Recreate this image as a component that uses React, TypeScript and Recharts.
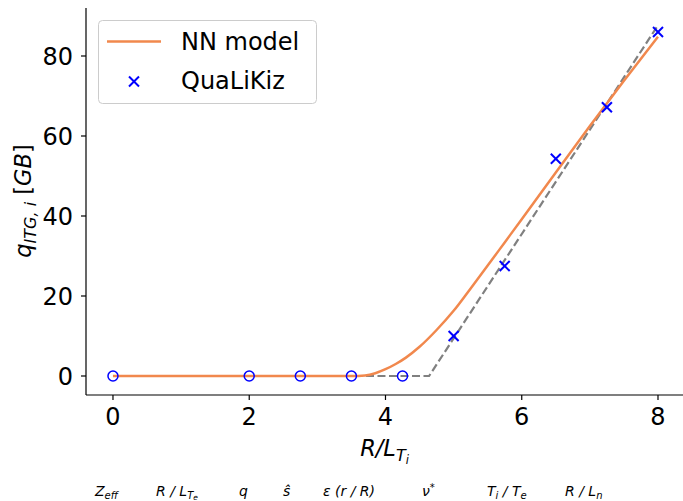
import { ComposedChart, Line, Scatter, XAxis, YAxis } from "recharts";

// NN model prediction
const nnX = [0, 3.5, 3.7, 3.85, 4, 4.15, 4.3, 4.5, 4.75, 5, 5.25, 5.5, 5.75, 6, 6.5, 7, 7.5, 8];
const nnY = [0, 0, 0.15, 0.7, 1.7, 3, 4.6, 7.3, 11.5, 16.3, 21.9, 27.6, 33.4, 39.2, 50.9, 62.5, 73.8, 84.8];

// dashed piecewise-linear reference
const refX = [0, 4.64, 8];
const refY = [0, 0, 87.7];

// QuaLiKiz points: stable (zero flux) and unstable
const stableX = [0, 2, 2.75, 3.5, 4.25];
const stableY = [0, 0, 0, 0, 0];
const unstableX = [5, 5.75, 6.5, 7.25, 8];
const unstableY = [10, 27.5, 54.3, 67.2, 86];

const xTicks = [0, 2, 4, 6, 8];
const yTicks = [0, 20, 40, 60, 80];

const zip = (xs: number[], ys: number[]) => xs.map((x, i) => ({ x, y: ys[i] }));

const ORANGE = "#f1884d";
const BLUE = "#0000ff";
const FONT = "'DejaVu Sans', sans-serif";

const Cross = ({ cx, cy }: any) => (
  <g stroke={BLUE} strokeWidth={2}>
    <line x1={cx - 5} y1={cy - 5} x2={cx + 5} y2={cy + 5} />
    <line x1={cx - 5} y1={cy + 5} x2={cx + 5} y2={cy - 5} />
  </g>
);

const Ring = ({ cx, cy }: any) => (
  <circle cx={cx} cy={cy} r={5} fill="none" stroke={BLUE} strokeWidth={1.5} />
);

const LBL = 14;
const SUB = 10;

export default function App() {
  return (
    <div style={{ position: "absolute", left: 0, top: 0, width: 683, height: 501, background: "#fff" }}>
      <ComposedChart width={683} height={501} margin={{ top: 8, right: 0, bottom: 0, left: 0 }}>
        <XAxis
          dataKey="x" type="number" domain={[-0.396, 8.367]} ticks={xTicks} allowDataOverflow
          height={106} tickSize={5} tickMargin={8} stroke="#000" strokeWidth={1.2}
          tick={{ fontSize: 24, fill: "#000", fontFamily: FONT }} tickLine={{ stroke: "#000" }}
        />
        <YAxis
          dataKey="y" type="number" domain={[-4.75, 92]} ticks={yTicks} allowDataOverflow
          width={86} tickSize={5} tickMargin={8} stroke="#000" strokeWidth={1.2}
          tick={{ fontSize: 24, fill: "#000", fontFamily: FONT }} tickLine={{ stroke: "#000" }}
        />
        <Line data={zip(refX, refY)} dataKey="y" type="linear" stroke="#808080" strokeWidth={2.2}
          strokeDasharray="8 3.5" dot={false} isAnimationActive={false} />
        <Line data={zip(nnX, nnY)} dataKey="y" type="monotone" stroke={ORANGE} strokeWidth={2.5}
          dot={false} isAnimationActive={false} />
        <Scatter data={zip(stableX, stableY)} dataKey="y" shape={(p: any) => <Ring cx={p.cx} cy={p.cy} />}
          isAnimationActive={false} />
        <Scatter data={zip(unstableX, unstableY)} dataKey="y" shape={(p: any) => <Cross cx={p.cx} cy={p.cy} />}
          isAnimationActive={false} />
      </ComposedChart>

      <svg width={683} height={501} style={{ position: "absolute", left: 0, top: 0, pointerEvents: "none" }}>
        {/* legend */}
        <rect x={98.5} y={20.5} width={218} height={83} rx={4} fill="#fff" fillOpacity={0.8} stroke="#cccccc" />
        <line x1={107} y1={41.5} x2={161} y2={41.5} stroke={ORANGE} strokeWidth={2.5} />
        <text x={181} y={50} fontSize={24} fontFamily={FONT} fill="#000">NN model</text>
        <Cross cx={134} cy={81.5} />
        <text x={181} y={89} fontSize={24} fontFamily={FONT} fill="#000">QuaLiKiz</text>

        {/* x label */}
        <text x={384.5} y={456} textAnchor="middle" fontSize={22.5} fontFamily={FONT} fontStyle="italic" fill="#000">
          R/L<tspan fontSize={16} dy={5}>T</tspan><tspan fontSize={11.5} dy={3}>i</tspan>
        </text>

        {/* y label */}
        <text x={31} y={201} textAnchor="middle" transform="rotate(-90 31 201)" fontSize={22.5}
          fontFamily={FONT} fontStyle="italic" fill="#000">
          q<tspan fontSize={16} dy={5}>ITG, i</tspan><tspan dy={-5} fontStyle="normal"> [</tspan>GB<tspan fontStyle="normal">]</tspan>
        </text>

        {/* parameter labels */}
        <g fontSize={LBL} fontFamily={FONT} fontStyle="italic" fill="#000">
          <text x={95} y={496}>Z<tspan fontSize={SUB} dy={3}>eff</tspan></text>
          <text x={156} y={496}>R / L<tspan fontSize={SUB} dy={2.5}>T</tspan><tspan fontSize={7.5} dy={1}>e</tspan></text>
          <text x={239} y={496}>q</text>
          <text x={283} y={496}>ŝ</text>
          <text x={323} y={496}>ε (r / R)</text>
          <text x={422} y={496}>ν<tspan fontSize={SUB} dy={-5} fontStyle="normal">*</tspan></text>
          <text x={487} y={496}>T<tspan fontSize={SUB} dy={3}>i</tspan><tspan dy={-3}> / T</tspan><tspan fontSize={SUB} dy={3}>e</tspan></text>
          <text x={565} y={496}>R / L<tspan fontSize={SUB} dy={3}>n</tspan></text>
        </g>
      </svg>
    </div>
  );
}
